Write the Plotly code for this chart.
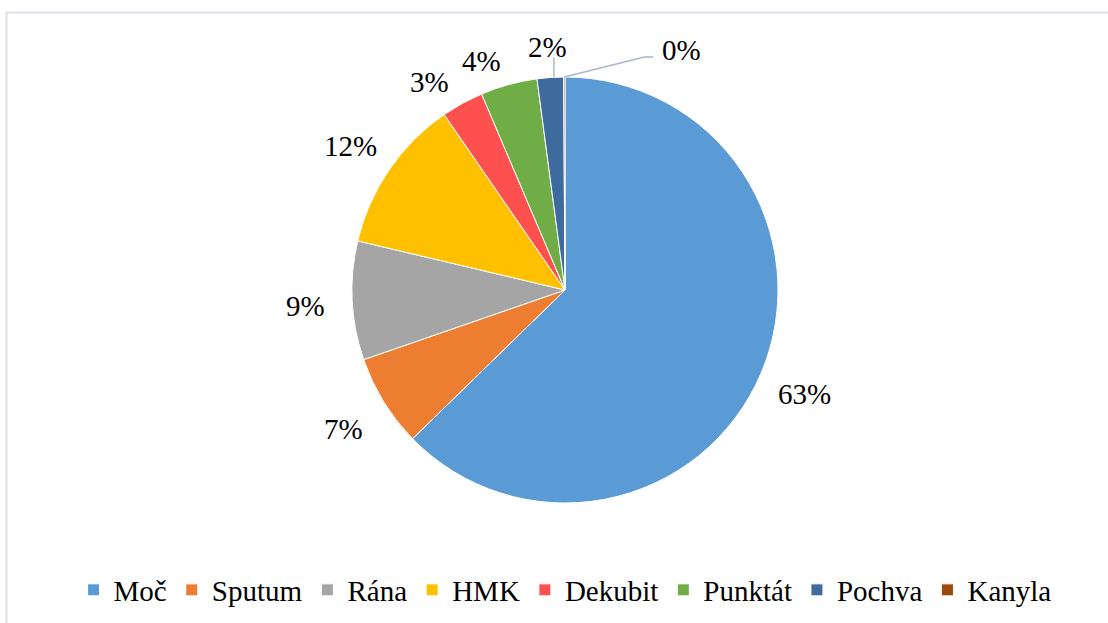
import math
import plotly.graph_objects as go

labels = ["Moč", "Sputum", "Rána", "HMK", "Dekubit", "Punktát", "Pochva", "Kanyla"]
values = [62.7, 7.0, 9.0, 11.7, 3.2, 4.3, 2.0, 0.1]
colors = ["#5B9BD5", "#ED7D31", "#A5A5A5", "#FFC000", "#FF5050", "#70AD47", "#3F6A9E", "#9E480E"]

W, H = 1108, 623
cx, cy, R = 565, 290, 213
FONT = "Liberation Serif"

def px_to_paper(x, y):
    return x / W, 1 - y / H

fig = go.Figure()
fig.add_trace(go.Pie(
    labels=labels, values=values, sort=False, direction="clockwise", rotation=0,
    marker=dict(colors=colors, line=dict(color="white", width=1)),
    textinfo="none", hoverinfo="label+percent",
    domain=dict(x=[(cx - R) / W, (cx + R) / W], y=[1 - (cy + R) / H, 1 - (cy - R) / H]),
))

total = sum(values)
annotations = []
shapes = []
line_col = "#A9B7C9"
cum = 0.0
for lab, v in zip(labels, values):
    mid = (cum + v / 2) / total * 2 * math.pi
    cum += v
    txt = f"{round(100 * v / total)}%"
    sx, sy = math.sin(mid), -math.cos(mid)
    if lab == "Kanyla":
        ex, ey = cx + R * sx, cy + R * sy
        lx, ly = ex + 117, ey - 30
        x0, y0 = px_to_paper(ex, ey)
        x1, y1 = px_to_paper(lx - 37, ly + 10)
        x2, y2 = px_to_paper(lx - 28, ly + 10)
        shapes.append(dict(type="path", xref="paper", yref="paper",
                           path=f"M {x0},{y0} L {x1},{y1} L {x2},{y2}",
                           line=dict(color=line_col, width=1.5)))
    elif lab == "Pochva":
        k = 1.16
        lx, ly = cx + R * k * sx, cy + R * k * sy
        lxl = lx + 6
        ey = cy - math.sqrt(R * R - (lxl - cx) ** 2)
        x0, y0 = px_to_paper(lxl, ey)
        x1, y1 = px_to_paper(lxl, ly + 14)
        shapes.append(dict(type="line", xref="paper", yref="paper",
                           x0=x0, y0=y0, x1=x1, y1=y1,
                           line=dict(color=line_col, width=1.5)))
    else:
        k = 1.22 if v > 5 else 1.13
        lx, ly = cx + R * k * sx, cy + R * k * sy
        if v <= 5:
            lx -= 20
    ax, ay = px_to_paper(lx, ly + 3)
    annotations.append(dict(x=ax, y=ay, xref="paper", yref="paper", text=txt,
                            showarrow=False, xanchor="center", yanchor="middle",
                            font=dict(family=FONT, size=29, color="black")))

# chart border
bx0, by0 = px_to_paper(6.5, 12.5)
bx1, by1 = px_to_paper(W + 20, H + 20)
shapes.append(dict(type="rect", xref="paper", yref="paper", x0=bx0, y0=by0, x1=bx1, y1=by1,
                   line=dict(color="#DDE2E8", width=2), layer="below"))

fig.update_layout(
    width=W, height=H,
    margin=dict(l=0, r=0, t=0, b=0),
    paper_bgcolor="white", plot_bgcolor="white",
    showlegend=True,
    legend=dict(orientation="h", x=0.51, xanchor="center", y=1 - 590 / H, yanchor="middle",
                font=dict(family=FONT, size=29, color="black"), itemwidth=30,
                traceorder="normal"),
    annotations=annotations, shapes=shapes,
)
fig.write_html("out.html")
